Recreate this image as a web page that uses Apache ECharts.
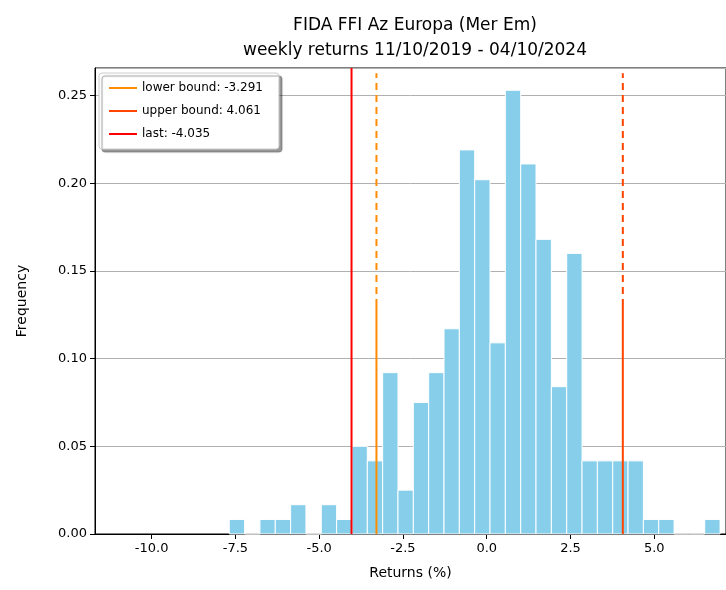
<!DOCTYPE html>
<html>
<head>
<meta charset="utf-8">
<script src="https://cdn.jsdelivr.net/npm/echarts@6/dist/echarts.min.js"></script>
<style>html,body{margin:0;padding:0;background:#fff}#main{width:726px;height:590px}</style>
</head>
<body>
<div id="main"></div>
<script>
// histogram bins: first edge and width, frequencies
var binStart = -7.683;
var binWidth = 0.4577;
var freqs = [0.0083, 0, 0.0083, 0.0083, 0.0167, 0, 0.0167, 0.0083, 0.050, 0.0417,
             0.092, 0.025, 0.075, 0.092, 0.117, 0.219, 0.202, 0.109, 0.253, 0.211,
             0.168, 0.084, 0.160, 0.0417, 0.0417, 0.0417, 0.0417, 0.0083, 0.0083, 0, 0, 0.0083];
var xTicks = [-10, -7.5, -5, -2.5, 0, 2.5, 5];
var lowerBound = -3.291;
var upperBound = 4.061;
var last = -4.035;
var yMax = 0.2657;
var solidTop = 0.13;

var bars = [];
for (var i = 0; i < freqs.length; i++) {
    bars.push([binStart + i * binWidth, binStart + (i + 1) * binWidth, freqs[i]]);
}

var myChart = echarts.init(document.getElementById('main'));
var font = 'DejaVu Sans';

option = {
    animation: false,
    textStyle: {fontFamily: font},
    title: {
        text: 'FIDA FFI Az Europa (Mer Em)\nweekly returns 11/10/2019 - 04/10/2024',
        left: 410, top: 8, textAlign: 'center',
        textStyle: {fontSize: 17, fontWeight: 'normal', color: '#000', lineHeight: 25, fontFamily: font}
    },
    legend: {
        left: 99, top: 73, orient: 'vertical',
        data: ['lower bound: -3.291', 'upper bound: 4.061', 'last: -4.035'],
        icon: 'rect', itemWidth: 28, itemHeight: 2, itemGap: 11,
        backgroundColor: '#fff', borderColor: '#ccc', borderWidth: 1, borderRadius: 3,
        padding: [9, 16, 9, 10],
        shadowColor: 'rgba(0,0,0,0.4)', shadowOffsetX: 3, shadowOffsetY: 3, shadowBlur: 1,
        textStyle: {fontSize: 12, color: '#000', fontFamily: font}
    },
    grid: {left: 95, right: 0, top: 68, bottom: 56, show: true, borderColor: '#000', borderWidth: 1},
    xAxis: {
        type: 'value', min: -11.69, max: 7.14,
        name: 'Returns (%)', nameLocation: 'middle', nameGap: 32,
        nameTextStyle: {fontSize: 14, color: '#000', fontFamily: font},
        splitLine: {show: false},
        axisLine: {show: true, onZero: false, lineStyle: {color: '#000'}},
        axisTick: {show: true, customValues: xTicks, length: 5, lineStyle: {color: '#000'}},
        axisLabel: {customValues: xTicks, fontSize: 13, color: '#000', margin: 8,
            formatter: function (v) { return v.toFixed(1); }}
    },
    yAxis: {
        type: 'value', min: 0, max: yMax, interval: 0.05,
        name: 'Frequency', nameLocation: 'middle', nameGap: 66,
        nameTextStyle: {fontSize: 14, color: '#000', fontFamily: font},
        axisLine: {show: true, onZero: false, lineStyle: {color: '#000'}},
        axisTick: {show: true, length: 5, lineStyle: {color: '#000'}},
        axisLabel: {fontSize: 13, color: '#000', margin: 8, showMaxLabel: false,
            formatter: function (v) { return v.toFixed(2); }},
        splitLine: {lineStyle: {color: '#b0b0b0', width: 1}}
    },
    series: [
        {
            type: 'custom', data: bars, z: 2,
            renderItem: function (params, api) {
                var p0 = api.coord([api.value(0), api.value(2)]);
                var p1 = api.coord([api.value(1), 0]);
                return {type: 'rect',
                    shape: {x: p0[0], y: p0[1], width: p1[0] - p0[0], height: p1[1] - p0[1]},
                    style: {fill: '#87ceeb', stroke: '#fff', lineWidth: 1}};
            }
        },
        {name: 'lower bound: -3.291', type: 'line', symbol: 'none', color: '#ff8c00', z: 3,
            lineStyle: {width: 2}, data: [[lowerBound, 0], [lowerBound, solidTop]]},
        {type: 'line', symbol: 'none', color: '#ff8c00', z: 3,
            lineStyle: {width: 2, type: [7, 5]}, data: [[lowerBound, solidTop], [lowerBound, yMax - 0.003]]},
        {name: 'upper bound: 4.061', type: 'line', symbol: 'none', color: '#ff4500', z: 3,
            lineStyle: {width: 2}, data: [[upperBound, 0], [upperBound, solidTop]]},
        {type: 'line', symbol: 'none', color: '#ff4500', z: 3,
            lineStyle: {width: 2, type: [7, 5]}, data: [[upperBound, solidTop], [upperBound, yMax - 0.003]]},
        {name: 'last: -4.035', type: 'line', symbol: 'none', color: '#ff0000', z: 3,
            lineStyle: {width: 2}, data: [[last, 0], [last, yMax]]}
    ]
};
myChart.setOption(option);
</script>
</body>
</html>
